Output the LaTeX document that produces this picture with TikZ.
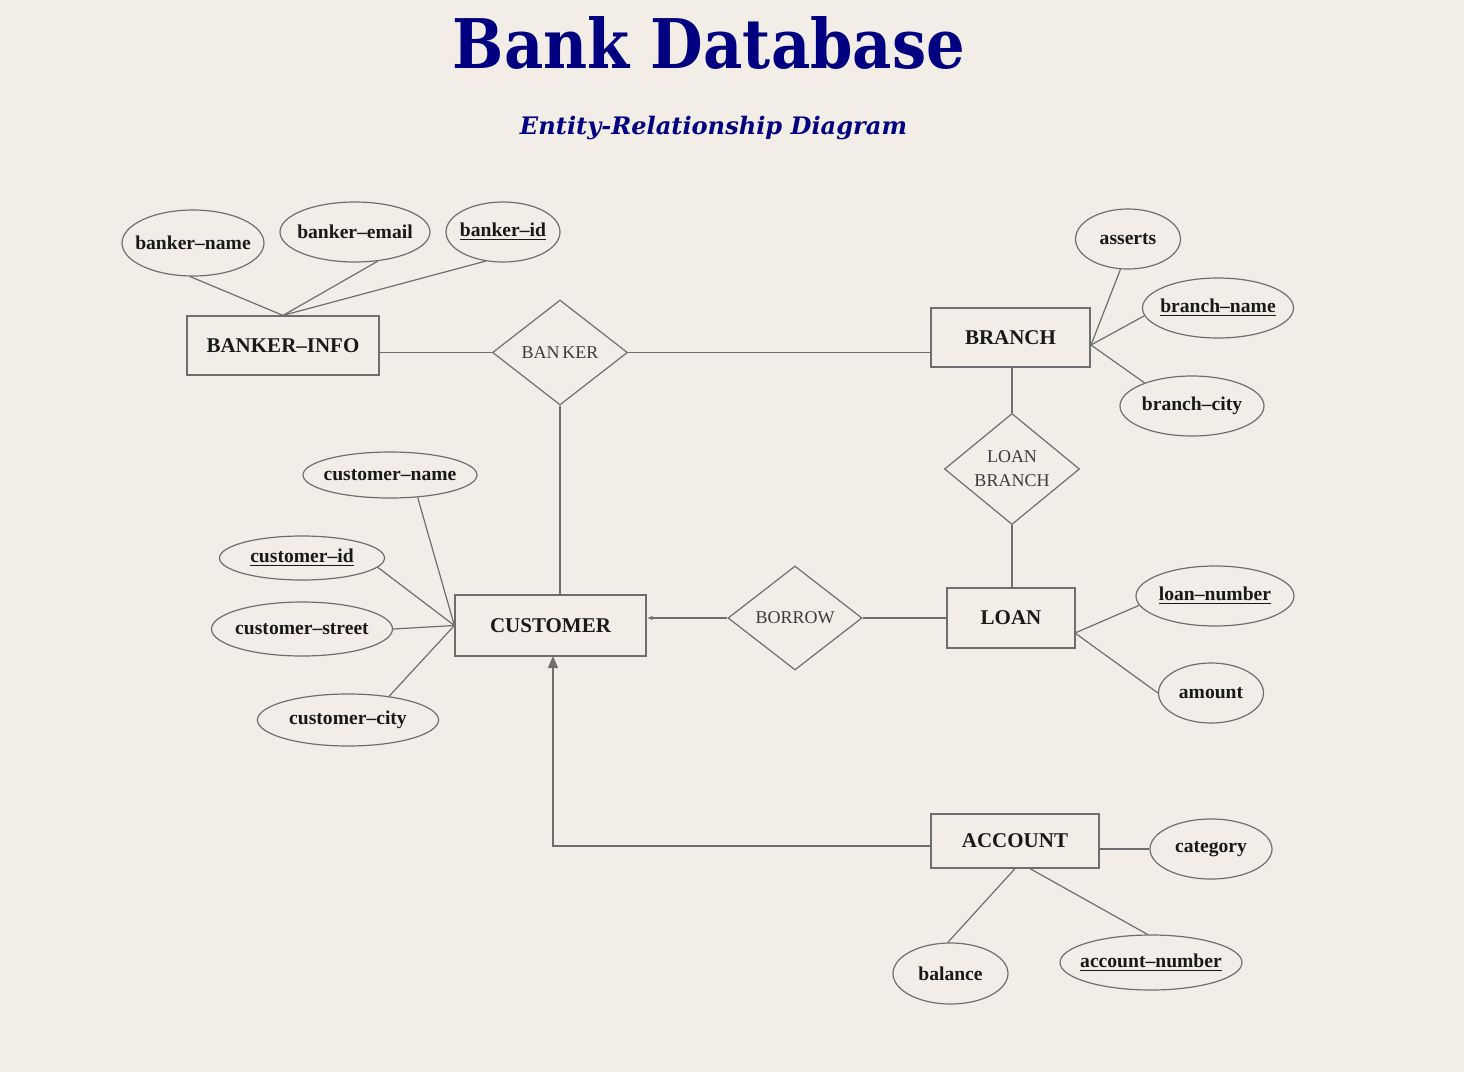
\documentclass[tikz,border=0pt]{standalone}
\usepackage{fontspec}
\setmainfont{Liberation Serif}
\newfontfamily\titlefont{DejaVu Serif}
\usetikzlibrary{shapes.geometric,arrows.meta,calc}
\definecolor{paper}{RGB}{243,237,231}
\definecolor{navy}{RGB}{0,0,128}
\definecolor{edgecol}{RGB}{110,110,110}
\definecolor{ink}{RGB}{25,25,25}
\newcommand{\attrtext}[1]{\makebox[0pt][c]{#1}}
\tikzset{
  entity/.style={draw=edgecol, line width=0.6pt, rectangle, inner sep=0pt,
    font=\fontsize{10.5}{12}\selectfont\bfseries, text=ink},
  relbox/.style={draw=edgecol, line width=0.6pt, diamond, inner sep=0pt,
    font=\fontsize{9}{12}\selectfont, text=ink!85, align=center},
  attr/.style={draw=edgecol, line width=0.6pt, ellipse, inner sep=0pt,
    font=\fontsize{9.8}{12}\selectfont\bfseries, text=ink},
  conn/.style={draw=edgecol, line width=0.6pt},
}
\begin{document}
\begin{tikzpicture}[x=0.5pt,y=-0.5pt]
\fill[paper] (0,0) rectangle (1464,1072);
\useasboundingbox (0,0) rectangle (1464,1072);

% titles
\node[anchor=base, text=navy, inner sep=0pt] (title) at (709,68)
  {\resizebox{256pt}{26pt}{\titlefont\bfseries Bank Database}};
\node[anchor=base, text=navy, inner sep=0pt] (subtitle) at (713.5,134)
  {\resizebox{193.5pt}{!}{\titlefont\bfseries\itshape Entity-Relationship Diagram}};

% entities
\node[entity, minimum width=96pt, minimum height=29.5pt] (bi) at (283,345.5) {BANKER--INFO};
\node[entity, minimum width=79.5pt, minimum height=29.5pt] (br) at (1010.5,337.5) {BRANCH};
\node[entity, minimum width=64pt, minimum height=30pt] (ln) at (1011,618) {LOAN};
\node[entity, minimum width=95.5pt, minimum height=30.5pt] (cu) at (550.5,625.5) {CUSTOMER};
\node[entity, minimum width=84pt, minimum height=27pt] (acc) at (1015,841) {ACCOUNT};

% relationships
\node[relbox, minimum width=67.5pt, minimum height=52.5pt] (bk) at (560,352.5) {BAN\,KER};
\node[relbox, minimum width=67.5pt, minimum height=52pt] (lb) at (1012,469) {LOAN\\BRANCH};
\node[relbox, minimum width=67pt, minimum height=52pt] (bo) at (795,618) {BORROW};

% attributes
\node[attr, minimum width=71pt, minimum height=33pt] (bn) at (193,243) {\attrtext{banker--name}};
\node[attr, minimum width=75pt, minimum height=30pt] (be) at (355,232) {\attrtext{banker--email}};
\node[attr, minimum width=57pt, minimum height=30pt] (bid) at (503,232) {\attrtext{\underline{banker--id}}};
\node[attr, minimum width=52.5pt, minimum height=30pt] (as) at (1128,239) {\attrtext{asserts}};
\node[attr, minimum width=75.5pt, minimum height=30pt] (bnm) at (1218,308) {\attrtext{\underline{branch--name}}};
\node[attr, minimum width=72pt, minimum height=30pt] (bc) at (1192,406) {\attrtext{branch--city}};
\node[attr, minimum width=87pt, minimum height=23pt] (cn) at (390,475) {\attrtext{customer--name}};
\node[attr, minimum width=82.5pt, minimum height=22pt] (cid) at (302,558) {\attrtext{\underline{customer--id}}};
\node[attr, minimum width=90.5pt, minimum height=27pt] (cs) at (302,629) {\attrtext{customer--street}};
\node[attr, minimum width=90.5pt, minimum height=26pt] (cc) at (348,720) {\attrtext{customer--city}};
\node[attr, minimum width=79pt, minimum height=30pt] (lnum) at (1215,596) {\attrtext{\underline{loan--number}}};
\node[attr, minimum width=52.5pt, minimum height=30pt] (am) at (1211,693) {\attrtext{amount}};
\node[attr, minimum width=61pt, minimum height=30pt] (cat) at (1211,849) {\attrtext{category}};
\node[attr, minimum width=57.5pt, minimum height=30.5pt] (bal) at (950.5,973.5) {\attrtext{balance}};
\node[attr, minimum width=91pt, minimum height=27.5pt] (an) at (1151,962.5) {\attrtext{\underline{account--number}}};

% convergence points
\coordinate (brp) at (1091,345);
\coordinate (lnp) at (1075,633);

% banker-info attributes
\draw[conn] (bn.-95) -- (bi.north);
\draw[conn] (be.-52) -- (bi.north);
\draw[conn] (bid.-121) -- (bi.north);

% branch attributes
\draw[conn] (as.-104) -- (brp);
\draw[conn] (bnm.186) -- (brp);
\draw[conn] (bc.154) -- (brp);

% customer attributes
\draw[conn] (cn.-39) -- (cu.west);
\draw[conn] (cid.-7) -- (cu.west);
\draw[conn] (cs.east) -- (cu.west);
\draw[conn] (cc.30) -- (cu.west);

% loan attributes
\draw[conn] (lnum.187) -- (lnp);
\draw[conn] (am.west) -- (lnp);

% account attributes
\draw[conn] (cat.west) -- (cat.west -| acc.east);
\draw[conn] (acc.south) -- (bal.95);
\draw[conn] ($(acc.south)+(15,0)$) -- (an.97);

% relationships
\draw[conn] (bk.west) -- (bk.west -| bi.east);
\draw[conn] (bk.east) -- (bk.east -| br.west);
\draw[conn] (bk.south) -- (bk.south |- cu.north);
\draw[conn] (lb.north) -- (lb.north |- br.south);
\draw[conn] (lb.south) -- (lb.south |- ln.north);
\draw[conn, -{Latex[length=3pt,width=2.2pt]}] (bo.west) -- (bo.west -| cu.east);
\draw[conn] (bo.east) -- (bo.east -| ln.west);
\draw[conn, -{Triangle[length=6pt,width=5pt]}, shorten >=-0.3pt]
  ($(acc.west)+(0,5)$) -| ($(cu.south)+(2.5,0)$);
\end{tikzpicture}
\end{document}
